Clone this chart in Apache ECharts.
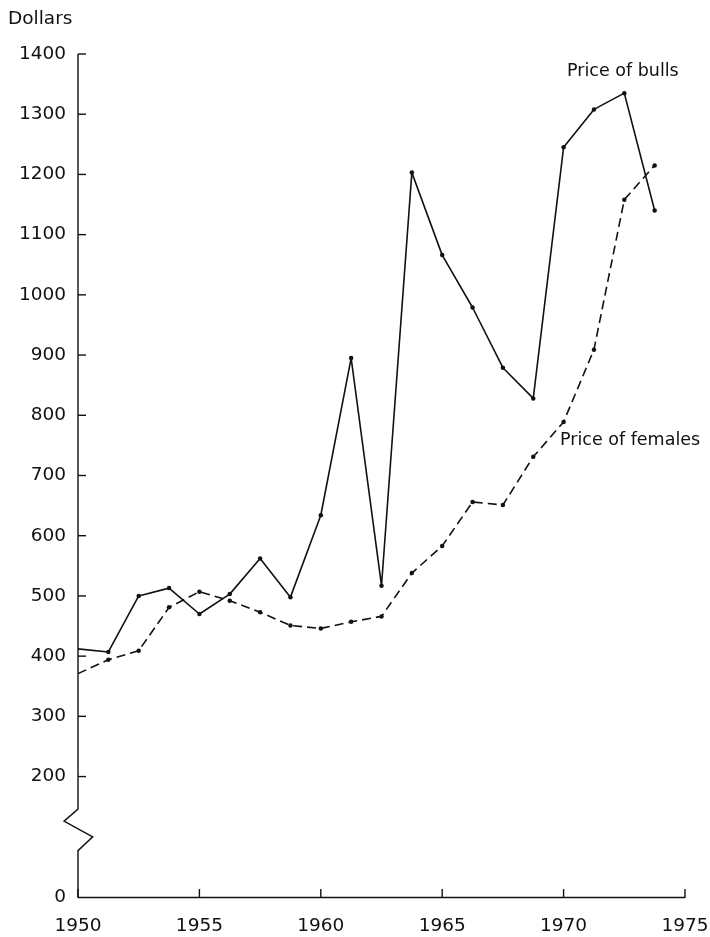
<!DOCTYPE html>
<html><head><meta charset="utf-8">
<script src="https://cdn.jsdelivr.net/npm/echarts@6/dist/echarts.min.js"></script>
<style>html,body{margin:0;padding:0;background:#fff}#c{width:710px;height:937px}</style>
</head><body><div id="c"></div>
<script>
// Data
const years = [1950, 1951.25, 1952.5, 1953.75, 1955, 1956.25, 1957.5, 1958.75, 1960, 1961.25,
               1962.5, 1963.75, 1965, 1966.25, 1967.5, 1968.75, 1970, 1971.25, 1972.5, 1973.75];
const bulls = [412, 407, 500, 513, 470, 503, 562, 498, 634, 895,
               517, 1203, 1066, 979, 879, 828, 1245, 1308, 1335, 1140];
const females = [371, 394, 409, 481, 507, 492, 473, 451, 446, 457,
                 466, 538, 583, 656, 651, 731, 789, 909, 1158, 1215];
const yTickValues = [0, 200, 300, 400, 500, 600, 700, 800, 900, 1000, 1100, 1200, 1300, 1400];
const xTickValues = [1950, 1955, 1960, 1965, 1970, 1975];
const labelBulls = 'Price of bulls';
const labelFemales = 'Price of females';
const yName = 'Dollars';

const FONT = 'DejaVu Sans';
const INK = '#111';
const chart = echarts.init(document.getElementById('c'), null, {renderer: 'canvas'});
const toData = vals => years.map((y, i) => i === 0 ? {value: [y, vals[i]], symbol: 'none'} : [y, vals[i]]);

chart.setOption({
  animation: false,
  grid: {left: 78, right: 25, top: 54, bottom: 40, containLabel: false, outerBoundsMode: 'none'},
  xAxis: {
    type: 'value', min: 1950, max: 1975, interval: 5,
    axisLine: {show: true, lineStyle: {color: INK, width: 1.4}},
    axisTick: {show: false},
    axisLabel: {color: INK, fontFamily: FONT, fontSize: 18.5, margin: 20, formatter: v => String(v)},
    splitLine: {show: false}
  },
  yAxis: {
    type: 'value', min: 0, max: 1400, interval: 100,
    axisLine: {show: false},
    axisTick: {show: false},
    axisLabel: {color: INK, fontFamily: FONT, fontSize: 18.5, margin: 12, customValues: yTickValues, formatter: v => String(v)},
    splitLine: {show: false}
  },
  series: [
    {
      type: 'line', name: labelBulls, data: toData(bulls),
      symbol: 'circle', symbolSize: 4.5,
      itemStyle: {color: INK},
      lineStyle: {color: INK, width: 1.6, type: 'solid'},
      z: 3
    },
    {
      type: 'line', name: labelFemales, data: toData(females),
      symbol: 'circle', symbolSize: 4.5,
      itemStyle: {color: INK},
      lineStyle: {color: INK, width: 1.6, type: [9, 5]},
      z: 2
    }
  ]
});

// Axis line with a break symbol and inward ticks, placed through the axis scales
const px = (x, y) => chart.convertToPixel({gridIndex: 0}, [x, y]);
const yPix = v => px(1950, v)[1];
const ax = px(1950, 0)[0];
const y0 = yPix(0);
const TICK = 8;
const tickStyle = {stroke: INK, lineWidth: 1.4};
const ticks = [];
xTickValues.forEach(v => {
  const x = px(v, 0)[0];
  ticks.push({type: 'line', silent: true, z: 10, shape: {x1: x, y1: y0, x2: x, y2: y0 - TICK}, style: tickStyle});
});
yTickValues.filter(v => v !== 0).forEach(v => {
  const y = yPix(v);
  ticks.push({type: 'line', silent: true, z: 10, shape: {x1: ax, y1: y, x2: ax + TICK, y2: y}, style: tickStyle});
});
chart.setOption({
  graphic: [
    {
      type: 'polyline', z: 10, silent: true,
      shape: {points: [[ax, y0], [ax, yPix(77)], [ax + 14.7, yPix(100)], [ax - 14, yPix(126)], [ax, yPix(146)], [ax, yPix(1400)]]},
      style: {stroke: INK, lineWidth: 1.4, fill: null}
    },
    ...ticks,
    {type: 'text', x: 8, y: 19, style: {text: yName, fontFamily: FONT, fontSize: 18.5, fill: INK, textVerticalAlign: 'middle'}},
    {type: 'text', x: 567, y: 71, style: {text: labelBulls, fontFamily: FONT, fontSize: 17.5, fill: INK, textVerticalAlign: 'middle'}},
    {type: 'text', x: 560, y: 440, style: {text: labelFemales, fontFamily: FONT, fontSize: 17.5, fill: INK, textVerticalAlign: 'middle'}}
  ]
});
</script>
</body></html>
